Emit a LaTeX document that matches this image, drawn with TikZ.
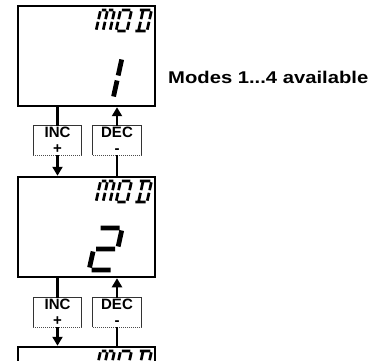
\documentclass[tikz,border=0pt]{standalone}
\usepackage{fontspec}
\setmainfont{Liberation Sans}
\setsansfont{Liberation Sans}
\usetikzlibrary{arrows.meta}
\tikzset{
  display/.style={draw, line width=2.5pt, minimum width=137pt, minimum height=100pt, inner sep=0pt},
  keybox/.style={minimum width=48pt, minimum height=29pt, inner sep=0pt, align=center,
    font=\fontsize{15}{16}\selectfont\bfseries},
  keyframe/.style={line width=1pt, draw=black!80},
  keydot/.style={line width=1pt, draw=black!70, densely dotted},
  conn/.style={line width=2.2pt},
  arr/.style={conn, -{Triangle[length=9pt,width=10pt]}},
  segS/.style={line width=2.7pt},
  segB/.style={line width=4.8pt},
  pics/glyphM/.style={code={
    \draw[segS] (1.3,21)--(5.7,21) (8.3,21)--(12.7,21)
      (0,11.8)--(0,19.7) (0,1.3)--(0,9.2)
      (7,11.8)--(7,19.7) (7,1.3)--(7,9.2)
      (14,11.8)--(14,19.7) (14,1.3)--(14,9.2);}},
  pics/glyphO/.style={code={
    \draw[segS] (1.3,21)--(9.7,21) (1.3,0)--(9.7,0)
      (0,11.8)--(0,19.7) (0,1.3)--(0,9.2)
      (11,11.8)--(11,19.7) (11,1.3)--(11,9.2);}},
  pics/glyphD/.style={code={
    \draw[segS] (1.3,21)--(11.7,21) (1.3,0)--(11.7,0)
      (4.5,11.8)--(4.5,19.7) (4.5,1.3)--(4.5,9.2)
      (13,11.8)--(13,19.7) (13,1.3)--(13,9.2);}},
  pics/modeword/.style={code={
    \pic[xslant=0.22] at (0,0) {glyphM};
    \pic[xslant=0.22] at (20,0) {glyphO};
    \pic[xslant=0.22] at (38,0) {glyphD};}},
  pics/digitOne/.style={code={
    \draw[segB] (24,23.5)--(24,39.5) (24,2.5)--(24,18.5);}},
  pics/digitTwo/.style={code={
    \draw[segB] (2.5,42)--(21.5,42) (24,23.5)--(24,39.5)
      (2.5,21)--(21.5,21) (0,2.5)--(0,18.5) (2.5,0)--(21.5,0);}},
}
\begin{document}
\begin{tikzpicture}[x=1pt,y=1pt]
\clip (0,0) rectangle (378,-361);
\fill[white] (0,0) rectangle (378,-361);

% displays
\node[display] (d1) at (86.5,-56) {};
\node[display] (d2) at (86.5,-227) {};
\node[display] (d3) at (86.5,-397) {};

% segment texts
\pic[xslant=0.22] at (96,-31) {modeword};
\pic[xslant=0.22] at (96,-202) {modeword};
\pic[xslant=0.22] at (96,-372) {modeword};
\pic[xslant=0.22] at (89,-99) {digitOne};
\pic[xslant=0.22] at (89,-270) {digitTwo};

% key boxes
\node[keybox] (k1) at (57.5,-140.5) {INC\\+};
\node[keybox] (k2) at (117,-140.5) {DEC\\-};
\node[keybox] (k3) at (57.5,-312.5) {INC\\+};
\node[keybox] (k4) at (117,-312.5) {DEC\\-};
\foreach \k in {k1,k2,k3,k4}{
  \draw[keyframe] (\k.south west) -- (\k.north west) -- (\k.north east) -- (\k.south east);
  \draw[keydot] (\k.south west) -- (\k.south east);
}

% connectors
\draw[conn] (d1.south -| k1) -- (k1.north);
\draw[arr] (k1.south) -- (d2.north -| k1);
\draw[arr] (k2.north) -- (d1.south -| k2);
\draw[conn] (k2.south) -- (d2.north -| k2);
\draw[conn] (d2.south -| k3) -- (k3.north);
\draw[arr] (k3.south) -- (d3.north -| k3);
\draw[arr] (k4.north) -- (d2.south -| k4);
\draw[conn] (k4.south) -- (d3.north -| k4);

% caption
\node[anchor=base west, inner sep=0pt, font=\fontsize{17}{20}\selectfont\bfseries] (cap) at (168,-84)
  {\scalebox{1.19}[1]{Modes 1...4 available}};
\end{tikzpicture}
\end{document}
